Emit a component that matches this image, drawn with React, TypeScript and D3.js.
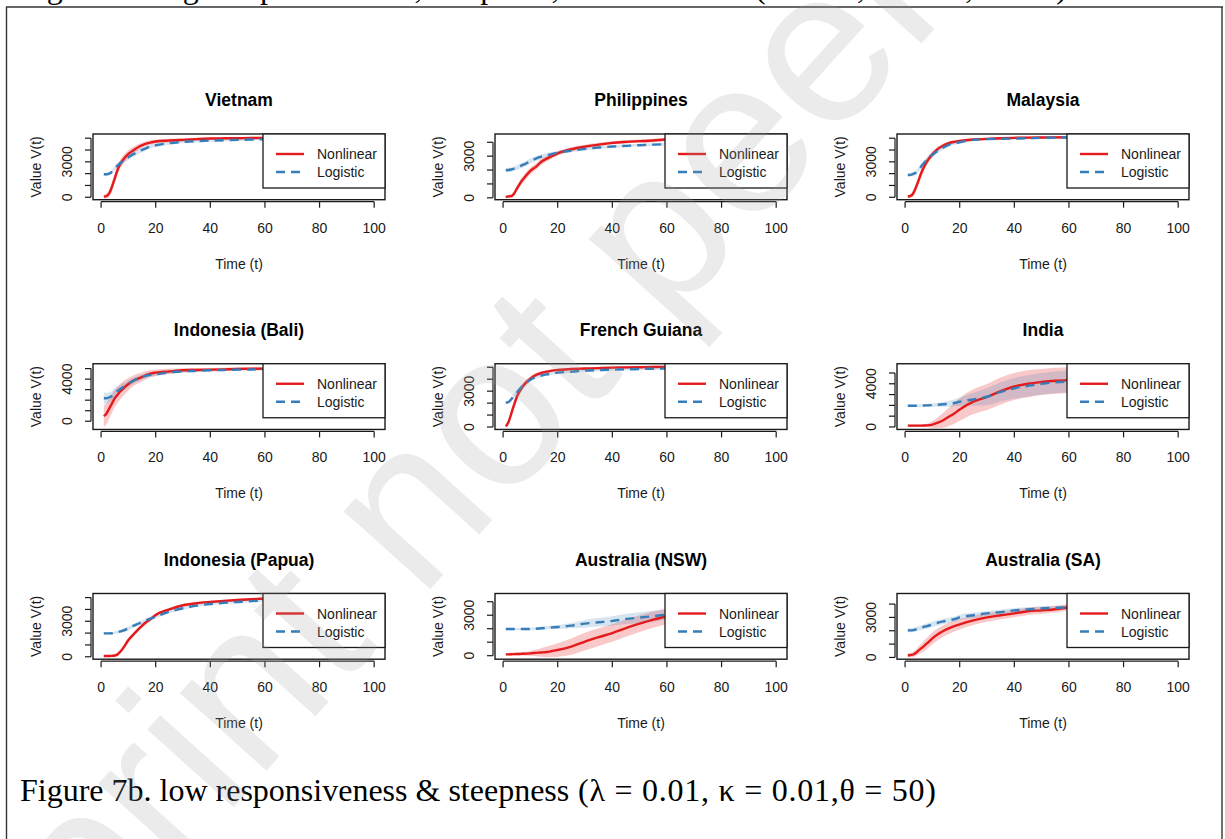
import React from 'react';
import * as d3 from 'd3';

// time points (the legend hides everything after t = 60)
const times = [1, 2, 3, 4, 5, 6, 7, 8, 10, 12, 14, 16, 18, 20, 25, 30, 35, 40, 45, 50, 55, 60];

const titles = [
    'Vietnam', 'Philippines', 'Malaysia',
    'Indonesia (Bali)', 'French Guiana', 'India',
    'Indonesia (Papua)', 'Australia (NSW)', 'Australia (SA)'
];

// y range of the data in each panel (R adds 4% on both sides)
const yLimits = [
    [0, 5150], [40, 4420], [0, 5150],
    [-550, 5230], [0, 5090], [-5, 5630],
    [0, 5140], [-80, 4430], [50, 4610]
];

const vietnamNonlinear = [50, 110, 340, 900, 1600, 2300, 2800, 3150, 3670, 4000, 4300, 4500, 4630, 4720, 4800, 4860, 4920, 4970, 4990, 5000, 5020, 5030];
const vietnamNonlinearBand = [150, 220, 320, 380, 420, 420, 400, 380, 320, 270, 240, 210, 190, 170, 150, 130, 120, 110, 100, 100, 100, 100];
const vietnamLogistic = [1950, 1950, 2000, 2170, 2460, 2680, 2880, 3080, 3390, 3670, 3900, 4100, 4290, 4400, 4580, 4690, 4750, 4800, 4830, 4860, 4890, 4920];
const vietnamLogisticBand = [120, 120, 130, 150, 180, 200, 220, 230, 230, 220, 200, 180, 160, 150, 130, 120, 110, 100, 100, 100, 100, 100];

const philippinesNonlinear = [50, 100, 120, 290, 650, 970, 1260, 1500, 1940, 2230, 2600, 2820, 3010, 3200, 3500, 3690, 3830, 3960, 4030, 4080, 4130, 4220];
const philippinesNonlinearBand = [100, 100, 120, 150, 200, 220, 240, 250, 250, 240, 220, 200, 180, 170, 150, 140, 130, 120, 120, 120, 120, 120];
const philippinesLogistic = [1990, 2000, 2040, 2100, 2180, 2260, 2350, 2430, 2650, 2820, 2960, 3060, 3160, 3250, 3400, 3520, 3620, 3690, 3740, 3790, 3830, 3860];
const philippinesLogisticBand = [150, 150, 150, 150, 160, 170, 180, 180, 180, 170, 160, 150, 140, 130, 120, 110, 100, 100, 100, 100, 100, 100];

const malaysiaNonlinear = [60, 110, 340, 850, 1470, 2090, 2600, 3020, 3640, 4100, 4380, 4580, 4690, 4770, 4890, 4940, 4990, 5030, 5050, 5060, 5070, 5080];
const malaysiaNonlinearBand = [120, 150, 250, 300, 350, 350, 330, 300, 250, 200, 170, 150, 130, 120, 110, 100, 100, 100, 100, 100, 100, 100];
const malaysiaLogistic = [1890, 1900, 1980, 2100, 2350, 2640, 2920, 3160, 3590, 3950, 4210, 4440, 4580, 4660, 4860, 4920, 4950, 4970, 5000, 5030, 5050, 5080];
const malaysiaLogisticBand = [150, 150, 160, 180, 200, 220, 230, 230, 220, 200, 180, 160, 140, 130, 120, 110, 100, 100, 100, 100, 100, 100];

const baliNonlinear = [480, 740, 1220, 1700, 2180, 2500, 2820, 3080, 3530, 3880, 4100, 4320, 4520, 4620, 4740, 4840, 4870, 4900, 4930, 4970, 4990, 5000];
const baliNonlinearBand = [1000, 1000, 950, 900, 850, 800, 750, 700, 600, 500, 450, 400, 350, 300, 250, 200, 180, 160, 150, 150, 150, 150];
const baliLogistic = [2180, 2180, 2280, 2400, 2660, 2880, 3060, 3240, 3560, 3880, 4100, 4280, 4400, 4460, 4650, 4740, 4790, 4840, 4870, 4900, 4920, 4940];
const baliLogisticBand = [550, 520, 480, 450, 420, 400, 380, 360, 320, 280, 250, 220, 200, 180, 150, 130, 120, 110, 100, 100, 100, 100];

const guianaNonlinear = [60, 420, 1130, 1840, 2490, 2970, 3330, 3620, 4040, 4350, 4520, 4630, 4720, 4770, 4860, 4890, 4930, 4970, 4990, 5000, 5020, 5030];
const guianaNonlinearBand = [150, 250, 350, 350, 330, 300, 270, 250, 200, 170, 150, 130, 120, 110, 100, 100, 100, 100, 100, 100, 100, 100];
const guianaLogistic = [2030, 2090, 2320, 2600, 2880, 3160, 3400, 3620, 3950, 4180, 4300, 4400, 4480, 4550, 4630, 4720, 4760, 4800, 4830, 4860, 4880, 4890];
const guianaLogisticBand = [120, 150, 180, 200, 200, 200, 190, 180, 160, 140, 130, 120, 110, 100, 100, 100, 100, 100, 100, 100, 100, 100];

const indiaNonlinear = [120, 120, 120, 120, 120, 125, 135, 150, 220, 400, 620, 940, 1250, 1620, 2340, 2780, 3330, 3750, 4000, 4160, 4280, 4340];
const indiaNonlinearBand = [100, 100, 100, 100, 100, 110, 130, 150, 300, 500, 700, 850, 950, 1050, 1150, 1200, 1250, 1250, 1250, 1200, 1200, 1200];
const indiaLogistic = [1970, 1970, 1970, 1970, 1970, 1980, 1990, 2000, 2030, 2060, 2100, 2150, 2220, 2340, 2560, 2800, 3250, 3590, 3810, 4000, 4130, 4220];
const indiaLogisticBand = [100, 100, 100, 100, 100, 110, 120, 130, 150, 180, 220, 280, 330, 400, 600, 800, 900, 950, 1000, 1000, 1000, 1000];

const papuaNonlinear = [60, 60, 60, 80, 110, 200, 420, 710, 1410, 1920, 2400, 2830, 3160, 3530, 4010, 4350, 4520, 4630, 4720, 4800, 4860, 4920];
const papuaNonlinearBand = [80, 80, 80, 100, 120, 150, 180, 200, 200, 180, 170, 160, 150, 140, 120, 110, 100, 100, 100, 100, 100, 100];
const papuaLogistic = [1980, 1980, 1980, 1990, 2030, 2080, 2140, 2200, 2400, 2630, 2830, 3050, 3220, 3390, 3810, 4100, 4320, 4460, 4560, 4630, 4700, 4750];
const papuaLogisticBand = [100, 100, 100, 100, 110, 120, 130, 140, 150, 150, 150, 150, 150, 140, 130, 120, 110, 100, 100, 100, 100, 100];

const nswNonlinear = [100, 100, 110, 115, 125, 130, 140, 150, 175, 210, 240, 275, 350, 425, 675, 1050, 1375, 1675, 2050, 2375, 2675, 2925];
const nswNonlinearBand = [80, 80, 90, 100, 110, 120, 130, 150, 180, 250, 320, 400, 450, 500, 600, 650, 650, 650, 650, 620, 600, 600];
const nswLogistic = [1975, 1975, 1975, 1975, 1975, 1975, 1975, 1975, 1975, 2000, 2030, 2070, 2100, 2125, 2225, 2375, 2475, 2575, 2725, 2825, 2925, 3050];
const nswLogisticBand = [80, 80, 80, 80, 80, 80, 80, 80, 90, 100, 110, 120, 130, 150, 200, 280, 320, 350, 380, 400, 400, 400];

const saNonlinear = [150, 180, 220, 350, 530, 700, 870, 1050, 1430, 1730, 1980, 2180, 2340, 2480, 2780, 3000, 3160, 3300, 3460, 3530, 3610, 3760];
const saNonlinearBand = [150, 150, 200, 250, 300, 350, 400, 420, 450, 450, 430, 420, 400, 380, 350, 330, 300, 280, 270, 260, 250, 250];
const saLogistic = [2030, 2030, 2050, 2100, 2180, 2240, 2300, 2350, 2480, 2600, 2700, 2780, 2860, 3000, 3160, 3300, 3400, 3530, 3600, 3680, 3720, 3760];
const saLogisticBand = [150, 150, 150, 160, 170, 180, 190, 200, 200, 200, 200, 200, 200, 200, 200, 190, 180, 170, 160, 150, 150, 150];

const nonlinearSeries = [vietnamNonlinear, philippinesNonlinear, malaysiaNonlinear, baliNonlinear, guianaNonlinear, indiaNonlinear, papuaNonlinear, nswNonlinear, saNonlinear];
const nonlinearBands = [vietnamNonlinearBand, philippinesNonlinearBand, malaysiaNonlinearBand, baliNonlinearBand, guianaNonlinearBand, indiaNonlinearBand, papuaNonlinearBand, nswNonlinearBand, saNonlinearBand];
const logisticSeries = [vietnamLogistic, philippinesLogistic, malaysiaLogistic, baliLogistic, guianaLogistic, indiaLogistic, papuaLogistic, nswLogistic, saLogistic];
const logisticBands = [vietnamLogisticBand, philippinesLogisticBand, malaysiaLogisticBand, baliLogisticBand, guianaLogisticBand, indiaLogisticBand, papuaLogisticBand, nswLogisticBand, saLogisticBand];

const legendLabels = ['Nonlinear', 'Logistic'];
const xLimits = [1, 100];

// caption lines: words, then the parameters (set wider, like the math font)
const captionTopText = 'Figure 7a. high responsiveness, steepness, and threshold';
const captionTopMath = '(λ = 0.1, κ = 0.1,θ = 50)';
const captionText = 'Figure 7b. low responsiveness & steepness';
const captionMath = '(λ = 0.01, κ = 0.01,θ = 50)';
const watermark = 'preprint not peer reviewed';

const RED = '#e41a1c';
const BLUE = '#377eb8';
const INK = '#1a1a1a';
const SERIF = '"Liberation Serif", "Times New Roman", serif';

function Panel({ index }) {
    const col = index % 3;
    const row = Math.floor(index / 3);
    const left = 93 + col * 402;
    const top = 134 + row * 229.75;
    const right = left + 292;
    const bottom = top + 65.7;

    const xPad = (xLimits[1] - xLimits[0]) * 0.04;
    const x = d3.scaleLinear().domain([xLimits[0] - xPad, xLimits[1] + xPad]).range([left, right]);
    const [lo, hi] = yLimits[index];
    const yPad = (hi - lo) * 0.04;
    const y = d3.scaleLinear().domain([lo - yPad, hi + yPad]).range([bottom, top]);

    const rows = times.map((t, k) => ({
        t,
        nl: nonlinearSeries[index][k],
        nlBand: nonlinearBands[index][k],
        lg: logisticSeries[index][k],
        lgBand: logisticBands[index][k]
    }));

    const nlArea = d3.area().curve(d3.curveMonotoneX)
        .x(d => x(d.t)).y0(d => y(d.nl - d.nlBand)).y1(d => y(d.nl + d.nlBand));
    const lgArea = d3.area().curve(d3.curveMonotoneX)
        .x(d => x(d.t)).y0(d => y(d.lg - d.lgBand)).y1(d => y(d.lg + d.lgBand));
    const nlLine = d3.line().curve(d3.curveMonotoneX).x(d => x(d.t)).y(d => y(d.nl));
    const lgLine = d3.line().curve(d3.curveMonotoneX).x(d => x(d.t)).y(d => y(d.lg));

    const xTicks = x.ticks(5);
    const yTicks = y.ticks(5);

    // R skips axis labels that would run into the previous one
    const charW = 0.556 * 14;
    let lastTop = Infinity;
    const yLabels = yTicks.filter(v => {
        const half = String(v).length * charW / 2;
        const c = y(v);
        if (c + half <= lastTop - 14) {
            lastTop = c - half;
            return true;
        }
        return false;
    });

    const clipId = `clip-${index}`;
    const lx = right - 122;

    return (
        <g>
            <clipPath id={clipId}>
                <rect x={left} y={top} width={right - left} height={bottom - top} />
            </clipPath>
            <g clipPath={`url(#${clipId})`}>
                <path d={nlArea(rows)} fill={RED} fillOpacity={0.24} />
                <path d={lgArea(rows)} fill={BLUE} fillOpacity={0.2} />
                <path d={nlLine(rows)} fill='none' stroke={RED} strokeWidth={2.4} />
                <path d={lgLine(rows)} fill='none' stroke={BLUE} strokeWidth={2.4} strokeDasharray='9,6' />
            </g>
            <rect x={left} y={top} width={right - left} height={bottom - top} fill='none' stroke={INK} strokeWidth={1.4} />

            {/* x axis */}
            <line x1={x(xTicks[0])} x2={x(xTicks[xTicks.length - 1])} y1={bottom + 2} y2={bottom + 2} stroke={INK} strokeWidth={1.2} />
            {xTicks.map(t => (
                <g key={'x' + t}>
                    <line x1={x(t)} x2={x(t)} y1={bottom + 2} y2={bottom + 8} stroke={INK} strokeWidth={1.2} />
                    <text x={x(t)} y={bottom + 33} textAnchor='middle' fontSize={14} fill={INK}>{t}</text>
                </g>
            ))}
            <text x={(left + right) / 2} y={bottom + 69} textAnchor='middle' fontSize={14} fill={INK}>Time (t)</text>

            {/* y axis */}
            <line x1={left - 2} x2={left - 2} y1={y(yTicks[0])} y2={y(yTicks[yTicks.length - 1])} stroke={INK} strokeWidth={1.2} />
            {yTicks.map(v => (
                <line key={'y' + v} x1={left - 8} x2={left - 2} y1={y(v)} y2={y(v)} stroke={INK} strokeWidth={1.2} />
            ))}
            {yLabels.map(v => (
                <text key={'yl' + v} transform={`translate(${left - 21},${y(v)}) rotate(-90)`} textAnchor='middle' fontSize={14} fill={INK}>{v}</text>
            ))}
            <text transform={`translate(${left - 52},${(top + bottom) / 2}) rotate(-90)`} textAnchor='middle' fontSize={14} fill={INK}>Value V(t)</text>

            <text x={(left + right) / 2} y={top - 28} textAnchor='middle' fontSize={17.5} fontWeight='bold' fill='#000'>{titles[index]}</text>

            {/* legend, top right, drawn over the curves */}
            <rect x={lx} y={top} width={122} height={54} fill='#fff' stroke={INK} strokeWidth={1.3} />
            <line x1={lx + 13} x2={lx + 41} y1={top + 20} y2={top + 20} stroke={RED} strokeWidth={2.4} />
            <line x1={lx + 13} x2={lx + 41} y1={top + 38} y2={top + 38} stroke={BLUE} strokeWidth={2.4} strokeDasharray='9,6' />
            <text x={lx + 54} y={top + 25} fontSize={14} fill={INK}>{legendLabels[0]}</text>
            <text x={lx + 54} y={top + 43} fontSize={14} fill={INK}>{legendLabels[1]}</text>
        </g>
    );
}

export default function App() {
    return (
        <svg width={1225} height={839}
            style={{ position: 'absolute', left: 0, top: 0, display: 'block', background: '#fff' }}
            fontFamily='"Liberation Sans", Arial, sans-serif'>
            <rect width={1225} height={839} fill='#fff' />

            {/* page text cut off at the top */}
            <text x={20} y={-2} fontSize={32} fontFamily={SERIF} fill='#000'>{captionTopText}</text>
            <text x={755} y={-2} fontSize={32} fontFamily={SERIF} fill='#000' textLength={312} lengthAdjust='spacing'>{captionTopMath}</text>

            {/* frame of the figure box */}
            <line x1={6} x2={1223} y1={7} y2={7} stroke='#333' strokeWidth={1.6} />
            <line x1={6.5} x2={6.5} y1={7} y2={839} stroke='#333' strokeWidth={1.4} />
            <line x1={1222} x2={1222} y1={7} y2={839} stroke='#333' strokeWidth={1.4} />

            {titles.map((t, i) => <Panel key={t} index={i} />)}

            <text x={20} y={801} fontSize={32} fontFamily={SERIF} fill='#000'>{captionText}</text>
            <text x={578} y={801} fontSize={32} fontFamily={SERIF} fill='#000' textLength={358} lengthAdjust='spacing'>{captionMath}</text>

            <text transform='translate(-120,1200) rotate(-48)' fontSize={220}
                fill='#9a9a9a' fillOpacity={0.2}>{watermark}</text>
        </svg>
    );
}
